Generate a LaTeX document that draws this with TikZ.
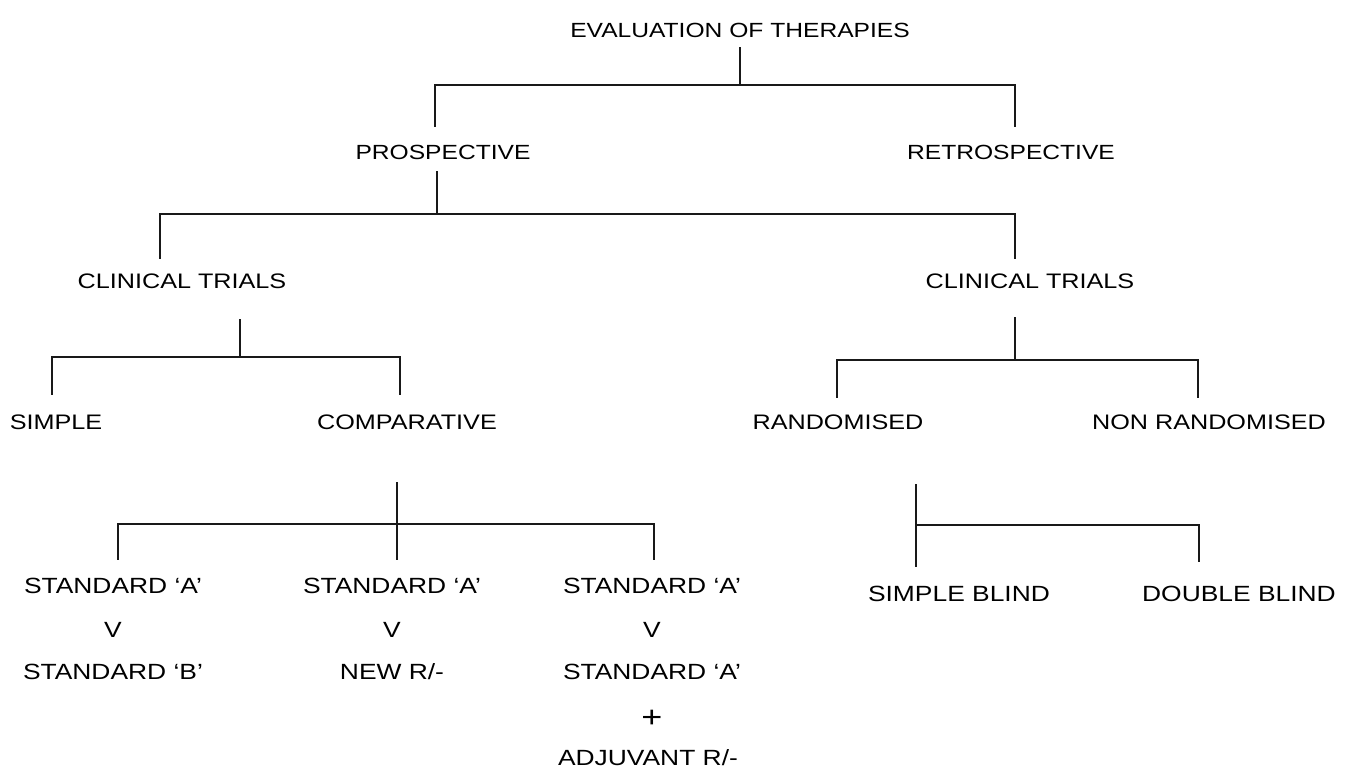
\documentclass[tikz,border=0pt]{standalone}
\usepackage{fontspec}
\setmainfont{Liberation Sans}[FakeStretch=1.2]
\usetikzlibrary{calc}
\tikzset{
  conn/.style={line width=2.6pt, line cap=rect, black!90},
  lbl/.style={anchor=base, inner sep=0pt, outer sep=0pt, text=black},
  lvA/.style={lbl, font=\fontsize{20.5}{22}\selectfont},
  lvB/.style={lbl, font=\fontsize{21}{23}\selectfont},
  lvC/.style={lbl, font=\fontsize{22}{24}\selectfont},
}
\begin{document}
\begin{tikzpicture}[x=1pt,y=1pt]
\useasboundingbox (0,0) rectangle (1345,-767);
% nodes
\node[lvA] (eval) at (740,-38) {EVALUATION OF THERAPIES};
\node[lvA] (prosp) at (443,-160) {PROSPECTIVE};
\node[lvA] (retro) at (1011,-160) {RETROSPECTIVE};
\node[lvB] (ctL) at (182,-289) {CLINICAL TRIALS};
\node[lvB] (ctR) at (1030,-289) {CLINICAL TRIALS};
\node[lvB] (simple) at (56,-430) {SIMPLE};
\node[lvB] (comp) at (407,-430) {COMPARATIVE};
\node[lvB] (rand) at (838,-430) {RANDOMISED};
\node[lvB] (nonrand) at (1209,-430) {NON RANDOMISED};
\node[lvC] (c1a) at (113,-593) {STANDARD `A'};
\node[lvC] (c1v) at (113,-637) {V};
\node[lvC] (c1b) at (113,-679) {STANDARD `B'};
\node[lvC] (c2a) at (392,-593) {STANDARD `A'};
\node[lvC] (c2v) at (392,-637) {V};
\node[lvC] (c2b) at (392,-679) {NEW R/-};
\node[lvC] (c3a) at (652,-593) {STANDARD `A'};
\node[lvC] (c3v) at (652,-637) {V};
\node[lvC] (c3b) at (652,-679) {STANDARD `A'};
\node[lbl, font=\fontsize{30}{32}\selectfont] (c3p) at (652,-727) {+};
\node[lvC] (c3c) at (648,-765) {ADJUVANT R/-};
\node[lvC] (sb) at (959,-601) {SIMPLE BLIND};
\node[lvC] (db) at (1239,-601) {DOUBLE BLIND};
% junction coordinates
\coordinate (j1) at (740,-85);
\coordinate (j1L) at (435,-85);
\coordinate (j1R) at (1015,-85);
\coordinate (j2) at (437,-214);
\coordinate (j2L) at (160,-214);
\coordinate (j2R) at (1015,-214);
\coordinate (j3) at (240,-357);
\coordinate (j3L) at (52,-357);
\coordinate (j3R) at (400,-357);
\coordinate (j4) at (1015,-360);
\coordinate (j4L) at (837,-360);
\coordinate (j4R) at (1198,-360);
\coordinate (j5) at (397,-524);
\coordinate (j5L) at (118,-524);
\coordinate (j5R) at (654,-524);
\coordinate (j6) at (916,-525);
\coordinate (j6R) at (1199,-525);
% connectors
\draw[conn] ([yshift=-10pt]eval.south) -- (j1);
\draw[conn] (j1L) -- (j1R);
\draw[conn] (j1L) -- ($(j1L |- prosp.north)+(0,20)$);
\draw[conn] (j1R) -- ($(j1R |- retro.north)+(0,20)$);
\draw[conn] ($(j2 |- prosp.south)+(0,-12)$) -- (j2);
\draw[conn] (j2L) -- (j2R);
\draw[conn] (j2L) -- ($(j2L |- ctL.north)+(0,17)$);
\draw[conn] (j2R) -- ($(j2R |- ctR.north)+(0,17)$);
\draw[conn] ($(j3 |- ctL.south)+(0,-31)$) -- (j3);
\draw[conn] (j3L) -- (j3R);
\draw[conn] (j3L) -- ($(j3L |- simple.north)+(0,22)$);
\draw[conn] (j3R) -- ($(j3R |- comp.north)+(0,22)$);
\draw[conn] ($(j4 |- ctR.south)+(0,-29)$) -- (j4);
\draw[conn] (j4L) -- (j4R);
\draw[conn] (j4L) -- ($(j4L |- rand.north)+(0,19)$);
\draw[conn] (j4R) -- ($(j4R |- nonrand.north)+(0,19)$);
\draw[conn] ($(j5 |- comp.south)+(0,-53)$) -- ($(j5 |- c2a.north)+(0,19)$);
\draw[conn] (j5L) -- (j5R);
\draw[conn] (j5L) -- ($(j5L |- c1a.north)+(0,19)$);
\draw[conn] (j5R) -- ($(j5R |- c3a.north)+(0,19)$);
\draw[conn] ($(j6 |- rand.south)+(0,-55)$) -- ($(j6 |- sb.north)+(0,20)$);
\draw[conn] (j6) -- (j6R);
\draw[conn] (j6R) -- ($(j6R |- db.north)+(0,25)$);
\end{tikzpicture}
\end{document}
